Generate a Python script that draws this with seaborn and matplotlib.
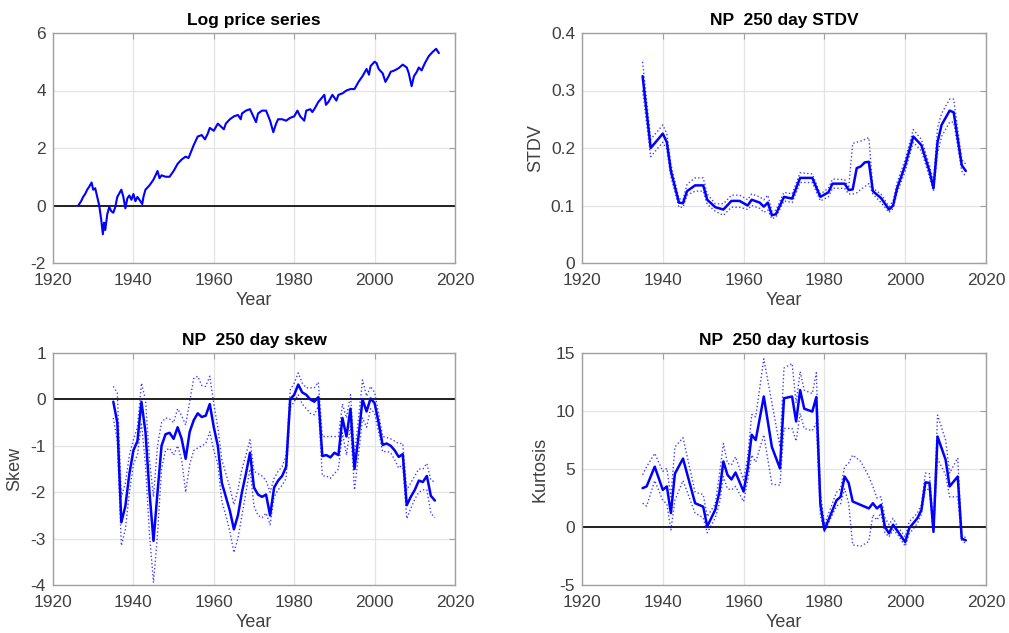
import numpy as np
import pandas as pd
import matplotlib
matplotlib.use("Agg")
import matplotlib.pyplot as plt
import seaborn as sns

# ---------------- data ----------------
price_year = [1926.3, 1927.0, 1927.5, 1928.0, 1928.5, 1929.0, 1929.6, 1930.0, 1930.5, 1931.0, 1931.5,
              1932.0, 1932.4, 1932.7, 1933.0, 1933.5, 1934.0, 1934.5, 1935.0, 1935.5, 1936.0,
              1937.0, 1937.5, 1938.0, 1938.5, 1939.0, 1939.5, 1940.0, 1940.5, 1941.0, 1941.5,
              1942.2, 1942.5, 1943.0, 1944.0, 1945.0, 1946.0, 1946.5, 1947.0, 1948.0, 1949.0,
              1950.0, 1951.0, 1952.0, 1953.0, 1953.7, 1954.0, 1955.0, 1956.0, 1957.0, 1957.8,
              1958.5, 1959.0, 1960.0, 1961.0, 1962.5, 1963.0, 1964.0, 1965.0, 1966.0, 1966.7,
              1967.0, 1968.0, 1969.0, 1970.5, 1971.0, 1972.0, 1973.0, 1974.0, 1974.8, 1975.5,
              1976.0, 1977.0, 1978.0, 1979.0, 1980.0, 1980.8, 1981.5, 1982.5, 1983.0, 1984.0,
              1984.5, 1985.0, 1986.0, 1987.5, 1987.9, 1988.5, 1989.5, 1990.5, 1991.0, 1992.0,
              1993.0, 1994.0, 1995.0, 1996.0, 1997.0, 1998.0, 1998.6, 1999.0, 2000.0, 2000.5,
              2001.0, 2002.0, 2002.7, 2003.5, 2004.0, 2005.0, 2006.0, 2007.0, 2008.0, 2008.5,
              2009.2, 2009.8, 2010.5, 2011.0, 2011.7, 2012.5, 2013.5, 2014.5, 2015.3, 2016.0]
price_value = [0.00, 0.15, 0.30, 0.40, 0.55, 0.65, 0.80, 0.55, 0.60, 0.30, 0.00,
               -0.50, -1.00, -0.60, -0.85, -0.30, -0.05, -0.20, -0.25, -0.05, 0.30,
               0.55, 0.30, -0.10, 0.25, 0.35, 0.20, 0.40, 0.15, 0.30, 0.20,
               0.05, 0.30, 0.55, 0.70, 0.90, 1.20, 0.95, 1.05, 1.00, 1.00,
               1.20, 1.45, 1.60, 1.70, 1.65, 1.75, 2.10, 2.40, 2.45, 2.30,
               2.50, 2.70, 2.60, 2.85, 2.65, 2.85, 3.00, 3.10, 3.15, 3.00,
               3.20, 3.30, 3.35, 2.90, 3.20, 3.30, 3.30, 2.95, 2.55, 2.85,
               3.00, 3.00, 2.95, 3.05, 3.10, 3.30, 3.10, 2.95, 3.30, 3.35,
               3.25, 3.35, 3.60, 3.85, 3.50, 3.60, 3.85, 3.65, 3.85, 3.90,
               4.00, 4.05, 4.05, 4.30, 4.50, 4.75, 4.55, 4.85, 5.00, 4.95,
               4.75, 4.60, 4.30, 4.50, 4.65, 4.70, 4.78, 4.90, 4.80, 4.60,
               4.15, 4.50, 4.65, 4.80, 4.70, 4.95, 5.20, 5.35, 5.45, 5.30]

stdv_year = [1935, 1937, 1940, 1941, 1942, 1944, 1945, 1946, 1948, 1950, 1951, 1953, 1955, 1957,
             1959, 1961, 1962, 1964, 1965, 1966, 1967, 1968, 1970, 1972, 1974, 1977, 1979, 1981,
             1982, 1985, 1986, 1987, 1988, 1989, 1990, 1991, 1992, 1994, 1996, 1997, 1998, 2000,
             2002, 2004, 2006, 2007, 2008, 2009, 2011, 2012, 2014, 2015]
stdv_mid = [0.325, 0.200, 0.225, 0.210, 0.160, 0.105, 0.104, 0.125, 0.135, 0.135, 0.110, 0.097,
            0.093, 0.108, 0.108, 0.100, 0.110, 0.105, 0.098, 0.105, 0.083, 0.085, 0.115, 0.112,
            0.148, 0.148, 0.115, 0.123, 0.138, 0.138, 0.127, 0.128, 0.165, 0.168, 0.175, 0.176,
            0.125, 0.113, 0.093, 0.100, 0.130, 0.170, 0.220, 0.205, 0.160, 0.130, 0.210, 0.240,
            0.265, 0.262, 0.170, 0.160]
stdv_hi = [0.350, 0.215, 0.240, 0.225, 0.172, 0.112, 0.110, 0.137, 0.148, 0.148, 0.120, 0.103,
           0.103, 0.118, 0.118, 0.110, 0.120, 0.115, 0.110, 0.118, 0.090, 0.092, 0.123, 0.120,
           0.157, 0.155, 0.120, 0.130, 0.146, 0.145, 0.130, 0.208, 0.210, 0.212, 0.215, 0.218,
           0.130, 0.120, 0.098, 0.108, 0.140, 0.180, 0.232, 0.215, 0.170, 0.140, 0.235, 0.260,
           0.285, 0.285, 0.180, 0.172]
stdv_lo = [0.300, 0.185, 0.210, 0.198, 0.150, 0.097, 0.097, 0.118, 0.125, 0.125, 0.102, 0.090,
           0.083, 0.097, 0.097, 0.093, 0.100, 0.095, 0.088, 0.092, 0.077, 0.080, 0.108, 0.105,
           0.140, 0.140, 0.108, 0.115, 0.130, 0.130, 0.120, 0.120, 0.122, 0.128, 0.133, 0.138,
           0.120, 0.105, 0.088, 0.095, 0.122, 0.160, 0.210, 0.195, 0.150, 0.125, 0.190, 0.220,
           0.245, 0.245, 0.160, 0.150]

skew_year = [1935, 1936, 1937, 1938, 1939, 1940, 1941, 1942, 1943, 1944, 1945, 1946, 1947, 1948,
             1949, 1950, 1951, 1952, 1953, 1954, 1955, 1956, 1957, 1958, 1959, 1960, 1961, 1962,
             1963, 1964, 1965, 1966, 1967, 1968, 1969, 1970, 1971, 1972, 1973, 1974, 1975, 1976,
             1977, 1978, 1979, 1980, 1981, 1982, 1983, 1984, 1985, 1986, 1987, 1988, 1989, 1990,
             1991, 1992, 1993, 1994, 1995, 1996, 1997, 1998, 1999, 2000, 2001, 2002, 2003, 2004,
             2005, 2006, 2007, 2008, 2009, 2010, 2011, 2012, 2013, 2014, 2015]
skew_mid = [-0.05, -0.50, -2.65, -2.30, -1.60, -1.10, -0.90, -0.05, -0.70, -2.00, -3.05, -2.00,
            -1.00, -0.75, -0.72, -0.85, -0.60, -0.85, -1.28, -0.70, -0.45, -0.30, -0.38, -0.35,
            -0.10, -0.60, -1.00, -1.80, -2.10, -2.40, -2.80, -2.50, -2.00, -1.60, -1.15, -1.90,
            -2.05, -2.10, -2.05, -2.50, -1.90, -1.75, -1.65, -1.45, 0.00, 0.10, 0.32, 0.15,
            0.10, 0.00, -0.05, 0.05, -1.22, -1.20, -1.25, -1.15, -1.20, -0.40, -0.80, -0.20,
            -1.50, -0.80, 0.00, -0.26, 0.02, -0.08, -0.50, -0.98, -0.95, -1.00, -1.10, -1.24,
            -1.18, -2.28, -2.10, -1.95, -1.75, -1.78, -1.65, -2.08, -2.18]
skew_hi = [0.28, 0.14, -2.10, -1.80, -1.20, -0.87, -0.60, 0.35, 0.00, -1.30, -2.10, -1.00,
           -0.50, -0.40, -0.42, -0.50, -0.20, -0.35, -0.55, -0.05, 0.45, 0.50, 0.30, 0.28,
           0.50, -0.10, -0.60, -1.30, -1.60, -1.90, -2.27, -1.95, -1.50, -1.20, -0.87, -1.55,
           -1.60, -1.65, -1.75, -2.00, -1.70, -1.55, -1.45, -1.20, 0.20, 0.35, 0.57, 0.35,
           0.25, 0.25, 0.25, 0.37, -0.80, -0.80, -0.80, -0.80, -0.80, -0.10, -0.40, 0.10,
           -1.20, -0.40, 0.42, 0.07, 0.28, 0.15, -0.30, -0.80, -0.82, -0.85, -0.90, -0.95,
           -0.95, -1.95, -1.80, -1.65, -1.50, -1.50, -1.38, -1.74, -1.78]
skew_lo = [-0.40, -0.90, -3.15, -2.80, -2.00, -1.40, -1.20, -0.50, -1.40, -2.90, -3.95, -2.90,
           -1.50, -1.10, -1.05, -1.20, -1.00, -1.30, -2.00, -1.40, -1.10, -1.05, -1.00, -0.95,
           -0.70, -1.10, -1.40, -2.20, -2.50, -2.85, -3.30, -3.00, -2.50, -2.00, -1.50, -2.30,
           -2.50, -2.55, -2.45, -2.70, -2.10, -1.95, -1.85, -1.70, -0.18, -0.05, 0.10, -0.10,
           -0.20, -0.30, -0.33, -0.15, -1.65, -1.65, -1.70, -1.60, -1.50, -0.72, -1.20, -0.58,
           -1.95, -1.20, -0.40, -0.60, -0.20, -0.30, -0.70, -1.13, -1.12, -1.15, -1.30, -1.48,
           -1.40, -2.57, -2.35, -2.15, -2.00, -1.95, -1.95, -2.45, -2.55]

kurt_year = [1935, 1936, 1938, 1940, 1941, 1942, 1943, 1945, 1948, 1950, 1951, 1953, 1954, 1955,
             1956, 1957, 1958, 1960, 1961, 1962, 1963, 1965, 1967, 1969, 1970, 1972, 1973, 1974,
             1975, 1977, 1978, 1979, 1980, 1983, 1984, 1985, 1986, 1987, 1989, 1991, 1992, 1993,
             1994, 1995, 1996, 1997, 1998, 2000, 2001, 2003, 2004, 2005, 2006, 2007, 2008, 2010,
             2011, 2013, 2014, 2015]
kurt_mid = [3.35, 3.50, 5.20, 3.20, 3.50, 1.20, 4.60, 5.90, 2.05, 1.75, 0.05, 1.50, 3.00, 5.65,
            4.50, 4.10, 4.70, 3.05, 5.00, 7.95, 7.50, 11.25, 6.90, 5.05, 11.10, 11.25, 9.10, 11.80,
            10.20, 9.95, 11.20, 2.00, -0.25, 2.30, 2.60, 4.35, 3.80, 2.20, 1.90, 1.60, 2.05, 1.60,
            1.90, 0.00, -0.55, 0.20, -0.30, -1.30, -0.10, 0.75, 1.45, 3.85, 3.80, -0.40, 7.80, 5.80,
            3.50, 4.35, -1.00, -1.15]
kurt_hi = [4.50, 5.20, 6.35, 4.80, 5.05, 2.60, 6.90, 7.70, 3.00, 2.80, 0.90, 2.00, 4.50, 7.20,
           5.50, 5.35, 6.05, 4.05, 6.00, 9.70, 9.50, 14.50, 10.70, 6.90, 13.70, 14.10, 10.70, 13.40,
           11.80, 11.50, 13.30, 3.00, 0.20, 3.00, 3.30, 5.20, 5.50, 6.20, 5.65, 4.35, 3.50, 2.50,
           2.60, 0.80, 0.20, 0.75, 0.10, -0.85, 0.45, 1.20, 1.90, 4.65, 4.60, 0.00, 9.65, 7.50,
           4.65, 5.95, -0.80, -0.90]
kurt_lo = [2.05, 1.80, 4.00, 2.30, 2.00, -0.25, 2.30, 4.00, 1.20, 0.80, -0.50, 0.80, 2.00, 4.35,
           3.30, 3.20, 3.50, 2.20, 4.00, 6.20, 5.60, 7.95, 3.70, 3.60, 8.50, 8.50, 7.40, 9.80,
           8.50, 8.30, 9.00, 1.00, -0.40, 1.80, 2.00, 3.30, 2.05, -1.55, -1.65, -1.25, 1.05, 0.60,
           1.20, -0.50, -0.85, -0.25, -0.60, -1.65, -0.60, 0.30, 1.10, 3.30, 3.20, -0.60, 5.90, 4.50,
           2.60, 2.60, -1.20, -1.40]

# ---------------- style ----------------
sns.set_theme(style="white")
plt.rcParams['font.family'] = ['Liberation Sans', 'DejaVu Sans']
plt.rcParams['axes.unicode_minus'] = False

BLUE = '#0000FF'
TICK_C = '#404040'
SPINE_C = '#a0a0a0'
GRID_C = '#e4e4e4'

fig = plt.figure(figsize=(10.09, 6.33), dpi=100)
W, H = 1009, 633
def add_ax(l, t, r, b):
    return fig.add_axes([l / W, 1 - b / H, (r - l) / W, (b - t) / H])

ax_tl = add_ax(53, 33, 455, 263)
ax_tr = add_ax(582, 33, 986, 263)
ax_bl = add_ax(53, 353, 455, 585)
ax_br = add_ax(582, 353, 986, 585)

def style(ax, title, ylim, yticks, zero=True):
    ax.set_xlim(1920, 2020)
    ax.set_xticks([1920, 1940, 1960, 1980, 2000, 2020])
    ax.set_ylim(*ylim)
    ax.set_yticks(yticks)
    ax.grid(True, color=GRID_C, lw=0.9)
    ax.set_axisbelow(True)
    for s in ax.spines.values():
        s.set_color(SPINE_C)
        s.set_linewidth(1.0)
    ax.tick_params(direction='in', length=4, width=0.8, color=SPINE_C, top=True, right=True,
                   labelsize=12.5, labelcolor=TICK_C)
    ax.tick_params(axis='x', pad=7)
    ax.tick_params(axis='y', pad=5)
    ax.set_title(title, fontsize=12.5, fontweight='bold', color='black', pad=6)
    if zero:
        ax.axhline(0, color='#202020', lw=1.4, zorder=1.5)

def bands(ax, yr, mid, hi, lo):
    df = pd.DataFrame({'Year': yr, 'mid': mid, 'hi': hi, 'lo': lo})
    sns.lineplot(data=df, x='Year', y='hi', ax=ax, color=BLUE, lw=1.0, linestyle=':',
                 alpha=0.75, estimator=None, sort=False)
    sns.lineplot(data=df, x='Year', y='lo', ax=ax, color=BLUE, lw=1.0, linestyle=':',
                 alpha=0.75, estimator=None, sort=False)
    sns.lineplot(data=df, x='Year', y='mid', ax=ax, color=BLUE, lw=1.8,
                 estimator=None, sort=False)

# Log price
style(ax_tl, 'Log price series', (-2, 6), [-2, 0, 2, 4, 6])
sns.lineplot(x=price_year, y=price_value, ax=ax_tl, color=BLUE, lw=1.5, estimator=None, sort=False)

# STDV
style(ax_tr, 'NP  250 day STDV', (0, 0.4), [0, 0.1, 0.2, 0.3, 0.4], zero=False)
bands(ax_tr, stdv_year, stdv_mid, stdv_hi, stdv_lo)
ax_tr.set_yticklabels(['0', '0.1', '0.2', '0.3', '0.4'])

# Skew
style(ax_bl, 'NP  250 day skew', (-4, 1), [-4, -3, -2, -1, 0, 1])
bands(ax_bl, skew_year, skew_mid, skew_hi, skew_lo)

# Kurtosis
style(ax_br, 'NP  250 day kurtosis', (-5, 15), [-5, 0, 5, 10, 15])
bands(ax_br, kurt_year, kurt_mid, kurt_hi, kurt_lo)

for ax, yl in ((ax_tl, None), (ax_tr, 'STDV'), (ax_bl, 'Skew'), (ax_br, 'Kurtosis')):
    ax.set_xlabel('Year', fontsize=13, color=TICK_C, labelpad=3)
    if yl:
        ax.set_ylabel(yl, fontsize=13, color=TICK_C, labelpad=5)
    else:
        ax.set_ylabel('')

fig.savefig('out.png', dpi=100)
